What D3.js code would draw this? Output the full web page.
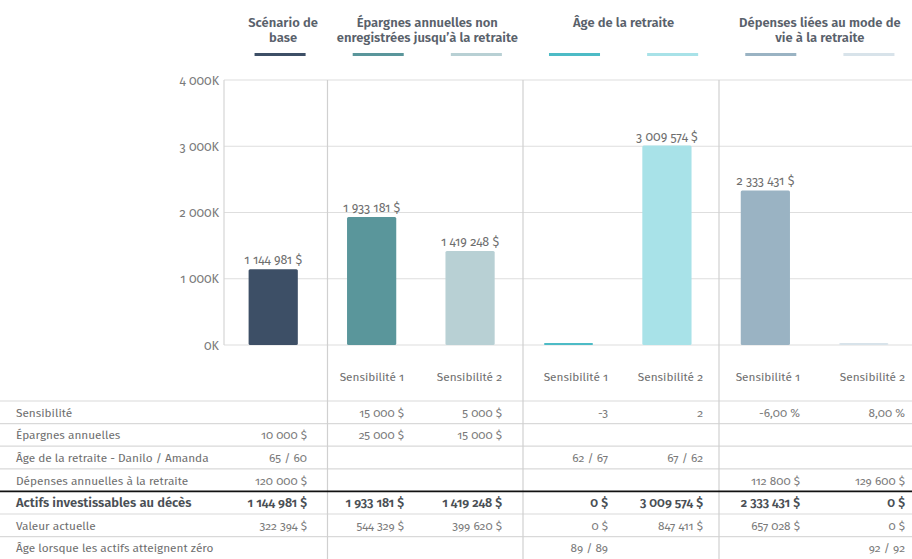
<!DOCTYPE html>
<html lang="fr">
<head>
<meta charset="utf-8">
<script src="https://cdn.jsdelivr.net/npm/d3@7"></script>
<style>
  html, body { margin: 0; padding: 0; background: #fff; }
  svg { display: block; font-family: "Fira Sans", Lato, "Open Sans", sans-serif; }
  .num { font-variant-numeric: oldstyle-nums; font-feature-settings: "onum" 1; }
</style>
</head>
<body>
<svg id="chart" width="912" height="559"></svg>
<script>
// ---- Data ----
const groupTitles = [
  ["Scénario de", "base"],
  ["Épargnes annuelles non", "enregistrées jusqu’à la retraite"],
  ["Âge de la retraite"],
  ["Dépenses liées au mode de", "vie à la retraite"]
];
const groupOf = [0, 1, 1, 2, 2, 3, 3];           // group index of each scenario column
const scenarios = ["base", "epS1", "epS2", "agS1", "agS2", "dpS1", "dpS2"];
const axisLabels = ["", "Sensibilité 1", "Sensibilité 2", "Sensibilité 1", "Sensibilité 2", "Sensibilité 1", "Sensibilité 2"];
const assets = [1144981, 1933181, 1419248, 0, 3009574, 2333431, 0];
const colors = ["#3d4f66", "#5a969b", "#b8d0d4", "#4dbbc6", "#a8e2e8", "#9ab3c3", "#d8e3ea"];
const yTicks = [0, 1000000, 2000000, 3000000, 4000000];

const rowLabels = [
  "Sensibilité",
  "Épargnes annuelles",
  "Âge de la retraite - Danilo / Amanda",
  "Dépenses annuelles à la retraite",
  "Actifs investissables au décès",
  "Valeur actuelle",
  "Âge lorsque les actifs atteignent zéro"
];
const rowSensibilite = ["", "15 000 $", "5 000 $", "-3", "2", "-6,00 %", "8,00 %"];
const rowEpargnes    = ["10 000 $", "25 000 $", "15 000 $", "", "", "", ""];
const rowAge         = ["65 / 60", "", "", "62 / 67", "67 / 62", "", ""];
const rowDepenses    = ["120 000 $", "", "", "", "", "112 800 $", "129 600 $"];
const rowValeur      = [322394, 544329, 399620, 0, 847411, 657028, 0];
const rowAgeZero     = ["", "", "", "89 / 89", "", "", "92 / 92"];

// ---- Formatting ----
const fr = d3.formatLocale({ decimal: ",", thousands: " ", grouping: [3], currency: ["", " $"] });
const money = v => fr.format(",")(v) + " $";
const kfmt = v => fr.format(",")(v / 1000) + "K";

const rows = [
  rowSensibilite,
  rowEpargnes,
  rowAge,
  rowDepenses,
  assets.map(money),
  rowValeur.map(money),
  rowAgeZero
];

// ---- Layout ----
const svg = d3.select("#chart");
const W = 912;
const plotLeft = 224, plotRight = 913, plotTop = 80, plotBottom = 345;
const groupDividers = [327.5, 523, 719];
const cellRight = [307, 404, 502, 608, 703, 800, 905];
const tableTop = 401, rowH = 22.6;
const textSize = 11.8;

const x = d3.scaleBand().domain(scenarios).range([plotLeft, plotRight])
  .paddingInner(0.5).paddingOuter(0.25);
const y = d3.scaleLinear().domain([0, 4000000]).range([plotBottom, plotTop]);
const legendX = d3.scaleBand().domain(scenarios).range([231, 918])
  .paddingInner(0.48).paddingOuter(0.24);

// ---- Header: group titles and colour keys ----
const header = svg.append("g");
groupTitles.forEach((lines, gi) => {
  const cols = scenarios.filter((s, i) => groupOf[i] === gi);
  const cx = d3.mean(cols, s => legendX(s) + legendX.bandwidth() / 2) + (gi === 0 ? 3 : 0);
  const t = header.append("text")
    .attr("x", cx).attr("y", 27)
    .attr("text-anchor", "middle")
    .attr("font-size", 13).attr("font-weight", 600)
    .attr("fill", "#59616b");
  lines.forEach((ln, li) => t.append("tspan").attr("x", cx).attr("dy", li ? 14.5 : 0).text(ln));
});
header.selectAll("rect.key").data(scenarios).join("rect")
  .attr("class", "key")
  .attr("x", s => legendX(s)).attr("y", 53)
  .attr("width", legendX.bandwidth()).attr("height", 3)
  .attr("fill", (s, i) => colors[i]);

// ---- Grid and axis ----
const grid = svg.append("g");
grid.selectAll("line.h").data(yTicks).join("line")
  .attr("class", "h")
  .attr("x1", plotLeft).attr("x2", W)
  .attr("y1", d => y(d)).attr("y2", d => y(d))
  .attr("stroke", "#dedede").attr("stroke-width", 1.2);
grid.append("line")
  .attr("x1", plotLeft).attr("x2", plotLeft)
  .attr("y1", plotTop).attr("y2", plotBottom)
  .attr("stroke", "#d6d6d6").attr("stroke-width", 1.2);

const yAxis = svg.append("g")
  .attr("transform", `translate(${plotLeft - 5},0)`)
  .call(d3.axisLeft(y).tickValues(yTicks).tickFormat(kfmt).tickSize(0).tickPadding(0));
yAxis.select(".domain").remove();
yAxis.selectAll("text")
  .attr("class", "num")
  .attr("font-family", "\"Fira Sans\", Lato, \"Open Sans\", sans-serif")
  .attr("font-size", 12.5).attr("fill", "#7a7a7a");

// ---- Table rules ----
const table = svg.append("g");
rowLabels.forEach((lbl, r) => {
  if (r === 4) return;
  table.append("line")
    .attr("x1", 0).attr("x2", W)
    .attr("y1", tableTop + r * rowH).attr("y2", tableTop + r * rowH)
    .attr("stroke", "#d9d9d9").attr("stroke-width", 1.2);
});
table.selectAll("line.v").data(groupDividers).join("line")
  .attr("class", "v")
  .attr("x1", d => d).attr("x2", d => d)
  .attr("y1", plotTop).attr("y2", 559)
  .attr("stroke", "#d0d0d0").attr("stroke-width", 1.2);
table.append("line")
  .attr("x1", 0).attr("x2", W)
  .attr("y1", tableTop + 4 * rowH).attr("y2", tableTop + 4 * rowH)
  .attr("stroke", "#111").attr("stroke-width", 1.6);

// ---- Bars ----
svg.append("g").selectAll("rect.bar").data(assets).join("rect")
  .attr("class", "bar")
  .attr("x", (d, i) => x(scenarios[i]))
  .attr("width", x.bandwidth())
  .attr("y", d => Math.min(y(d), plotBottom - 2))
  .attr("height", d => Math.max(plotBottom - y(d), 2))
  .attr("rx", 1.5)
  .attr("fill", (d, i) => colors[i]);

svg.append("g").selectAll("text.val").data(assets).join("text")
  .attr("class", "val num")
  .attr("x", (d, i) => x(scenarios[i]) + x.bandwidth() / 2)
  .attr("y", d => y(d) - 5)
  .attr("text-anchor", "middle")
  .attr("font-size", 12.5).attr("fill", "#6e6e6e")
  .text(d => d > 0 ? money(d) : "");

// ---- Category labels under the plot ----
svg.append("g").selectAll("text.cat").data(axisLabels).join("text")
  .attr("class", "cat num")
  .attr("x", (d, i) => cellRight[i])
  .attr("y", 381)
  .attr("text-anchor", "end")
  .attr("font-size", textSize).attr("fill", "#6e6e6e")
  .text(d => d);

// ---- Table text ----
rowLabels.forEach((lbl, r) => {
  const yy = tableTop + r * rowH + rowH / 2 + 4.5;
  const bold = r === 4;
  table.append("text")
    .attr("x", 16).attr("y", yy)
    .attr("font-size", bold ? 13 : textSize)
    .attr("font-weight", bold ? 600 : 400)
    .attr("fill", bold ? "#4a4f55" : "#6e6e6e")
    .text(lbl);
  table.selectAll(null).data(rows[r]).join("text")
    .attr("class", "num")
    .attr("x", (d, i) => cellRight[i]).attr("y", yy)
    .attr("text-anchor", "end")
    .attr("font-size", bold ? 12.5 : textSize)
    .attr("font-weight", bold ? 600 : 400)
    .attr("fill", bold ? "#4a4f55" : "#7a7a7a")
    .text(d => d);
});
</script>
</body>
</html>
